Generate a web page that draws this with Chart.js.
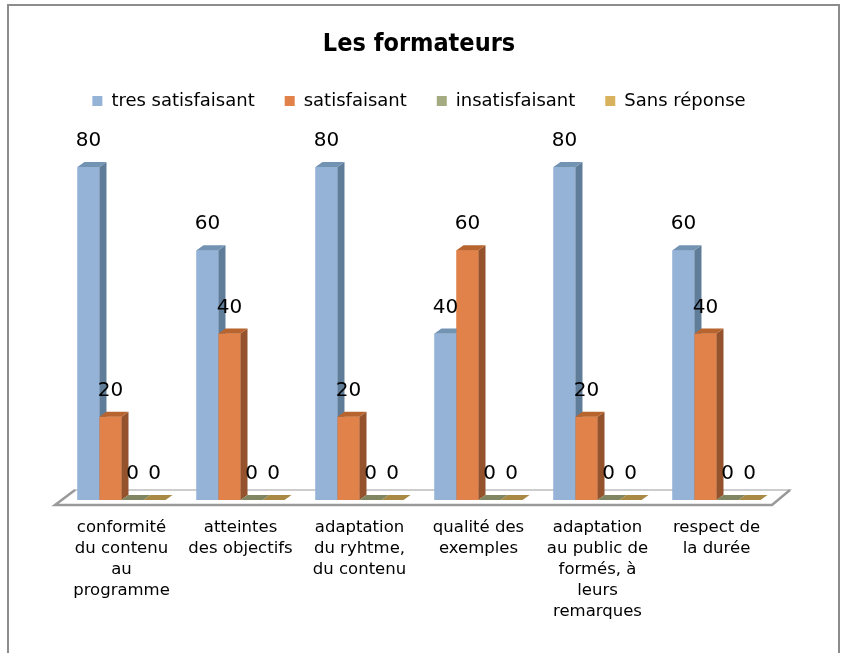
<!DOCTYPE html>
<html>
<head>
<meta charset="utf-8">
<script src="https://cdn.jsdelivr.net/npm/chart.js@4"></script>
<style>
html, body { margin: 0; padding: 0; background: #fff; }
#frame { position: absolute; left: 7px; top: 4px; width: 833px; height: 700px; border: 2px solid #8c8c8c; box-sizing: border-box; }
#wrap { position: absolute; left: 0; top: 0; width: 842px; height: 653px; }
</style>
</head>
<body>
<div id="frame"></div>
<div id="wrap"><canvas id="myChart" width="842" height="653"></canvas></div>
<script>
var categories = [
    ["conformité", "du contenu", "au", "programme"],
    ["atteintes", "des objectifs"],
    ["adaptation", "du ryhtme,", "du contenu"],
    ["qualité des", "exemples"],
    ["adaptation", "au public de", "formés, à", "leurs", "remarques"],
    ["respect de", "la durée"]
];
var seriesNames = ["tres satisfaisant", "satisfaisant", "insatisfaisant", "Sans réponse"];
var tresSatisfaisant = [80, 60, 80, 40, 80, 60];
var satisfaisant = [20, 40, 20, 60, 20, 40];
var insatisfaisant = [0, 0, 0, 0, 0, 0];
var sansReponse = [0, 0, 0, 0, 0, 0];

var frontColors = ["#95B3D7", "#E0824A", "#A5AB81", "#D8B25C"];
var topColors = ["#7393B3", "#B8642F", "#7F8661", "#A98A45"];
var sideColors = ["#5F7D99", "#94532C", "#6B7150", "#8B7139"];
var depthX = 7, depthY = 5;
var fontName = "'DejaVu Sans', sans-serif";

// floor under the bars
var floorPlugin = {
    id: 'floor3d',
    beforeDatasetsDraw: function(chart) {
        var ctx = chart.ctx, area = chart.chartArea;
        var base = chart.scales.y.getPixelForValue(0);
        ctx.save();
        ctx.beginPath();
        ctx.moveTo(area.left - 7, base + 5);
        ctx.lineTo(area.left + 13, base - 10);
        ctx.lineTo(area.right + 14, base - 10);
        ctx.lineTo(area.right - 4, base + 5);
        ctx.closePath();
        ctx.fillStyle = '#ffffff';
        ctx.fill();
        ctx.strokeStyle = '#bdbdbd';
        ctx.lineWidth = 1.5;
        ctx.stroke();
        ctx.beginPath();
        ctx.moveTo(area.left + 13, base - 10);
        ctx.lineTo(area.left - 7, base + 5);
        ctx.lineTo(area.right - 4, base + 5);
        ctx.lineTo(area.right + 14, base - 10);
        ctx.strokeStyle = '#9a9a9a';
        ctx.lineWidth = 2.5;
        ctx.stroke();
        ctx.restore();
    }
};

// front, side and top faces, series by series so the next bar covers the previous side
var depthPlugin = {
    id: 'bars3d',
    afterDatasetsDraw: function(chart) {
        var ctx = chart.ctx;
        ctx.save();
        chart.data.datasets.forEach(function(ds, i) {
            chart.getDatasetMeta(i).data.forEach(function(bar) {
                var p = bar.getProps(['x', 'y', 'base', 'width'], true);
                var l = p.x - p.width / 2, r = p.x + p.width / 2;
                ctx.fillStyle = frontColors[i];
                ctx.fillRect(l, p.y, p.width, p.base - p.y);
                ctx.fillStyle = sideColors[i];
                ctx.beginPath();
                ctx.moveTo(r, p.y);
                ctx.lineTo(r + depthX, p.y - depthY);
                ctx.lineTo(r + depthX, p.base - depthY);
                ctx.lineTo(r, p.base);
                ctx.closePath();
                ctx.fill();
                ctx.fillStyle = topColors[i];
                ctx.beginPath();
                ctx.moveTo(l, p.y);
                ctx.lineTo(l + depthX, p.y - depthY);
                ctx.lineTo(r + depthX, p.y - depthY);
                ctx.lineTo(r, p.y);
                ctx.closePath();
                ctx.fill();
            });
        });
        ctx.restore();
    }
};

var labelPlugin = {
    id: 'valueLabels',
    afterDatasetsDraw: function(chart) {
        var ctx = chart.ctx;
        ctx.save();
        ctx.font = '20px ' + fontName;
        ctx.fillStyle = '#000';
        ctx.textAlign = 'center';
        ctx.textBaseline = 'middle';
        chart.data.datasets.forEach(function(ds, i) {
            chart.getDatasetMeta(i).data.forEach(function(bar, j) {
                ctx.fillText(String(ds.data[j]), bar.x, bar.y - 26);
            });
        });
        ctx.restore();
    }
};

var allSeries = [tresSatisfaisant, satisfaisant, insatisfaisant, sansReponse];
var datasets = [];
for (var s = 0; s < allSeries.length; s++) {
    datasets.push({
        label: seriesNames[s],
        data: allSeries[s],
        backgroundColor: frontColors[s],
        borderWidth: 0,
        categoryPercentage: 0.74,
        barPercentage: 1.0
    });
}

var ctx = document.getElementById('myChart');
var myChart = new Chart(ctx, {
    type: 'bar',
    data: { labels: categories, datasets: datasets },
    plugins: [floorPlugin, depthPlugin, labelPlugin],
    options: {
        responsive: false,
        animation: false,
        devicePixelRatio: 1,
        layout: { padding: { top: 6, left: 62, right: 66, bottom: 14 } },
        plugins: {
            title: {
                display: true,
                text: 'Les formateurs',
                color: '#000',
                font: { family: "'DejaVu Sans Condensed', 'DejaVu Sans', sans-serif", size: 25, weight: 'bold' },
                padding: { top: 23, bottom: 3 }
            },
            legend: {
                display: true,
                labels: {
                    color: '#000',
                    boxWidth: 10,
                    boxHeight: 10,
                    padding: 30,
                    font: { family: fontName, size: 18 }
                }
            },
            tooltip: { enabled: false }
        },
        scales: {
            x: {
                grid: { display: false, drawTicks: false },
                border: { display: false },
                ticks: {
                    color: '#000',
                    padding: 17,
                    autoSkip: false,
                    maxRotation: 0,
                    font: { family: fontName, size: 16.5, lineHeight: '21px' }
                }
            },
            y: {
                display: false,
                min: 0,
                max: 91.3
            }
        }
    }
});
</script>
</body>
</html>
